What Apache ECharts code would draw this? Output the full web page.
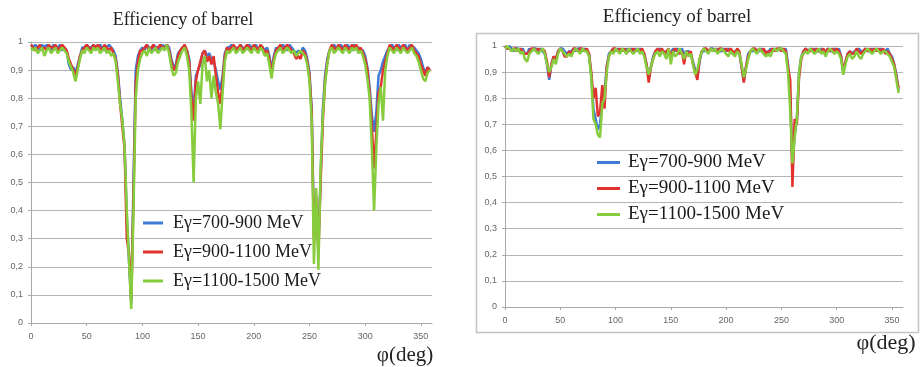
<!DOCTYPE html>
<html><head><meta charset="utf-8">
<script src="https://cdn.jsdelivr.net/npm/echarts@6/dist/echarts.min.js"></script>
<style>html,body{margin:0;padding:0;background:#fff}#c{width:920px;height:367px}</style>
</head><body><div id="c"></div>
<script>
const seriesNames = ['Eγ=700-900 MeV', 'Eγ=900-1100 MeV', 'Eγ=1100-1500 MeV'];
const titleText = 'Efficiency of barrel';
const axisTitle = 'φ(deg)';
const xTicks = [0, 50, 100, 150, 200, 250, 300, 350];
const yTickLabels = ['0', '0,1', '0,2', '0,3', '0,4', '0,5', '0,6', '0,7', '0,8', '0,9', '1'];

const phi = [
  0,2,4,6,8,10,12,14,16,18,
  20,22,24,26,28,30,32,34,36,38,
  40,42,44,46,48,50,52,54,56,58,
  60,62,64,66,68,70,72,74,76,78,
  80,82,84,86,88,90,92,94,96,98,
  100,102,104,106,108,110,112,114,116,118,
  120,122,124,126,128,130,132,134,136,138,
  140,142,144,146,148,150,152,154,156,158,
  160,162,164,166,168,170,172,174,176,178,
  180,182,184,186,188,190,192,194,196,198,
  200,202,204,206,208,210,212,214,216,218,
  220,222,224,226,228,230,232,234,236,238,
  240,242,244,246,248,250,252,254,256,258,
  260,262,264,266,268,270,272,274,276,278,
  280,282,284,286,288,290,292,294,296,298,
  300,302,304,306,308,310,312,314,316,318,
  320,322,324,326,328,330,332,334,336,338,
  340,342,344,346,348,350,352,354,356,358
];

// Left panel
const leftBlue = [
  0.99,0.98,0.99,0.98,0.97,0.99,0.98,0.99,0.98,0.97,
  0.99,0.98,0.98,0.99,0.97,0.98,0.97,0.92,0.90,0.91,
  0.89,0.92,0.95,0.98,0.98,0.99,0.98,0.98,0.99,0.98,
  0.98,0.99,0.98,0.97,0.98,0.99,0.98,0.97,0.95,0.89,
  0.80,0.72,0.63,0.38,0.22,0.07,0.50,0.90,0.95,0.97,
  0.98,0.97,0.99,0.98,0.97,0.99,0.98,0.98,0.97,0.99,
  0.98,0.99,0.98,0.94,0.91,0.92,0.96,0.97,0.98,0.98,
  0.97,0.94,0.82,0.76,0.88,0.90,0.92,0.96,0.97,0.95,
  0.96,0.94,0.93,0.90,0.86,0.83,0.88,0.96,0.98,0.98,
  0.99,0.98,0.98,0.97,0.99,0.98,0.97,0.98,0.99,0.98,
  0.98,0.99,0.97,0.98,0.98,0.97,0.98,0.95,0.90,0.95,
  0.98,0.97,0.98,0.99,0.98,0.97,0.99,0.98,0.97,0.96,
  0.97,0.96,0.98,0.97,0.94,0.89,0.76,0.32,0.42,0.28,
  0.52,0.76,0.88,0.94,0.97,0.98,0.99,0.98,0.98,0.99,
  0.98,0.98,0.99,0.98,0.97,0.99,0.98,0.98,0.97,0.97,
  0.95,0.91,0.84,0.74,0.68,0.75,0.88,0.90,0.93,0.95,
  0.97,0.98,0.99,0.98,0.97,0.99,0.98,0.98,0.99,0.97,
  0.99,0.98,0.98,0.97,0.96,0.94,0.91,0.89,0.91,0.90
];
const leftRed = [
  0.99,0.98,0.97,0.98,0.99,0.97,0.98,0.97,0.99,0.98,
  0.98,0.99,0.97,0.98,0.99,0.98,0.97,0.94,0.92,0.90,
  0.88,0.91,0.95,0.97,0.98,0.99,0.98,0.97,0.99,0.98,
  0.99,0.98,0.97,0.99,0.98,0.97,0.98,0.96,0.94,0.88,
  0.78,0.70,0.62,0.30,0.25,0.08,0.45,0.85,0.93,0.97,
  0.97,0.98,0.99,0.97,0.98,0.99,0.97,0.98,0.99,0.98,
  0.98,0.99,0.97,0.93,0.90,0.91,0.95,0.97,0.98,0.99,
  0.97,0.93,0.80,0.72,0.86,0.90,0.93,0.96,0.97,0.93,
  0.95,0.92,0.95,0.88,0.82,0.78,0.86,0.95,0.98,0.97,
  0.98,0.99,0.97,0.98,0.99,0.97,0.98,0.99,0.98,0.97,
  0.99,0.98,0.97,0.99,0.98,0.96,0.97,0.94,0.89,0.94,
  0.97,0.98,0.99,0.97,0.98,0.99,0.98,0.97,0.96,0.94,
  0.95,0.94,0.97,0.96,0.93,0.88,0.75,0.30,0.45,0.25,
  0.50,0.72,0.86,0.93,0.97,0.99,0.98,0.97,0.99,0.98,
  0.97,0.99,0.98,0.97,0.99,0.98,0.99,0.97,0.98,0.96,
  0.94,0.90,0.82,0.70,0.55,0.68,0.82,0.84,0.90,0.93,
  0.96,0.99,0.98,0.97,0.99,0.98,0.97,0.99,0.98,0.97,
  0.98,0.99,0.97,0.96,0.95,0.92,0.90,0.88,0.91,0.90
];
const leftGreen = [
  0.98,0.97,0.98,0.96,0.97,0.98,0.95,0.97,0.98,0.96,
  0.97,0.98,0.96,0.97,0.98,0.97,0.96,0.93,0.91,0.89,
  0.86,0.90,0.94,0.97,0.96,0.98,0.97,0.96,0.98,0.97,
  0.98,0.96,0.97,0.98,0.96,0.97,0.95,0.96,0.93,0.86,
  0.78,0.72,0.63,0.40,0.22,0.05,0.40,0.80,0.90,0.94,
  0.96,0.97,0.95,0.98,0.96,0.97,0.98,0.96,0.97,0.98,
  0.97,0.99,0.96,0.91,0.88,0.89,0.93,0.95,0.97,0.98,
  0.95,0.90,0.75,0.50,0.80,0.86,0.78,0.92,0.95,0.86,
  0.90,0.80,0.88,0.82,0.78,0.69,0.82,0.93,0.97,0.96,
  0.97,0.98,0.96,0.97,0.98,0.96,0.97,0.98,0.97,0.96,
  0.98,0.97,0.96,0.98,0.97,0.95,0.96,0.92,0.87,0.93,
  0.96,0.97,0.98,0.96,0.97,0.98,0.97,0.96,0.97,0.95,
  0.96,0.97,0.96,0.95,0.92,0.86,0.72,0.21,0.48,0.19,
  0.55,0.74,0.85,0.92,0.97,0.98,0.96,0.97,0.98,0.97,
  0.96,0.98,0.97,0.96,0.98,0.97,0.98,0.96,0.97,0.95,
  0.92,0.87,0.80,0.62,0.40,0.62,0.78,0.84,0.72,0.90,
  0.95,0.98,0.97,0.96,0.98,0.97,0.96,0.98,0.97,0.96,
  0.97,0.98,0.96,0.95,0.93,0.90,0.87,0.86,0.89,0.90
];

// Right panel (0..356)
const rightBlue = [
  1.00,0.99,1.00,0.99,0.98,0.99,0.99,0.98,0.99,0.97,
  0.97,0.99,0.98,0.99,0.99,0.98,0.99,0.98,0.97,0.93,
  0.87,0.93,0.96,0.95,0.98,0.99,0.99,0.98,0.97,0.98,
  0.98,0.99,0.98,0.99,0.99,0.98,0.99,0.98,0.97,0.89,
  0.76,0.72,0.68,0.70,0.80,0.82,0.92,0.97,0.98,0.99,
  0.98,0.99,0.98,0.99,0.98,0.99,0.98,0.99,0.98,0.99,
  0.98,0.99,0.98,0.97,0.93,0.88,0.92,0.96,0.98,0.98,
  0.99,0.98,0.98,0.97,0.98,0.97,0.99,0.98,0.99,0.98,
  0.99,0.97,0.98,0.98,0.97,0.94,0.91,0.88,0.94,0.98,
  0.98,0.99,0.98,0.99,0.99,0.98,0.99,0.98,0.98,0.99,
  0.98,0.99,0.98,0.97,0.98,0.98,0.97,0.92,0.865,0.92,
  0.97,0.98,0.98,0.99,0.98,0.98,0.99,0.98,0.98,0.97,
  0.99,0.98,0.99,0.98,0.99,0.99,0.98,0.99,0.93,0.80,
  0.54,0.66,0.72,0.90,0.96,0.98,0.99,0.98,0.99,0.98,
  0.99,0.98,0.98,0.99,0.98,0.98,0.99,0.98,0.98,0.99,
  0.98,0.99,0.96,0.90,0.94,0.97,0.98,0.97,0.98,0.98,
  0.99,0.98,0.98,0.99,0.98,0.98,0.99,0.98,0.99,0.98,
  0.99,0.98,0.98,0.99,0.97,0.96,0.93,0.89,0.83
];
const rightRed = [
  1.00,0.99,0.99,0.98,0.99,0.99,0.98,0.99,0.98,0.97,
  0.97,0.98,0.99,0.99,0.98,0.99,0.98,0.99,0.98,0.94,
  0.88,0.93,0.96,0.95,0.98,0.99,0.98,0.96,0.96,0.98,
  0.97,0.99,0.99,0.98,0.99,0.99,0.98,0.99,0.97,0.90,
  0.80,0.84,0.73,0.75,0.85,0.76,0.92,0.96,0.98,0.99,
  0.99,0.98,0.99,0.98,0.99,0.97,0.99,0.98,0.99,0.98,
  0.99,0.98,0.99,0.97,0.93,0.86,0.92,0.95,0.98,0.99,
  0.98,0.99,0.97,0.98,0.99,0.96,0.98,0.99,0.98,0.97,
  0.98,0.93,0.98,0.97,0.98,0.93,0.90,0.87,0.95,0.98,
  0.99,0.99,0.98,0.99,0.98,0.99,0.98,0.99,0.99,0.98,
  0.99,0.98,0.99,0.98,0.97,0.99,0.98,0.92,0.86,0.92,
  0.96,0.98,0.99,0.99,0.98,0.99,0.98,0.99,0.97,0.98,
  0.98,0.99,0.98,0.99,0.99,0.98,0.99,0.98,0.92,0.87,
  0.46,0.72,0.70,0.88,0.95,0.98,0.99,0.98,0.98,0.99,
  0.98,0.99,0.98,0.98,0.99,0.97,0.99,0.98,0.99,0.98,
  0.99,0.98,0.96,0.90,0.94,0.97,0.98,0.97,0.97,0.99,
  0.98,0.97,0.98,0.99,0.98,0.99,0.98,0.99,0.98,0.99,
  0.98,0.99,0.97,0.98,0.97,0.95,0.93,0.88,0.84
];
const rightGreen = [
  0.99,1.00,0.99,0.98,0.99,0.98,0.99,0.97,0.98,0.95,
  0.94,0.97,0.98,0.99,0.98,0.97,0.98,0.99,0.97,0.93,
  0.90,0.92,0.95,0.93,0.97,0.99,0.98,0.97,0.96,0.97,
  0.96,0.98,0.99,0.98,0.97,0.99,0.98,0.98,0.96,0.88,
  0.72,0.70,0.66,0.65,0.78,0.80,0.90,0.96,0.98,0.97,
  0.99,0.98,0.97,0.99,0.98,0.97,0.99,0.98,0.97,0.98,
  0.99,0.97,0.98,0.96,0.92,0.89,0.92,0.95,0.97,0.98,
  0.96,0.98,0.97,0.95,0.99,0.93,0.98,0.96,0.97,0.99,
  0.97,0.95,0.98,0.96,0.97,0.93,0.89,0.91,0.95,0.98,
  0.99,0.98,0.97,0.99,0.98,0.99,0.97,0.98,0.99,0.98,
  0.97,0.96,0.98,0.97,0.96,0.98,0.97,0.93,0.88,0.91,
  0.95,0.98,0.99,0.98,0.97,0.99,0.98,0.97,0.96,0.97,
  0.96,0.98,0.99,0.98,0.99,0.99,0.98,0.97,0.90,0.75,
  0.55,0.65,0.72,0.90,0.96,0.97,0.98,0.97,0.99,0.98,
  0.97,0.98,0.99,0.97,0.98,0.96,0.98,0.99,0.98,0.97,
  0.98,0.97,0.95,0.89,0.93,0.96,0.97,0.95,0.96,0.98,
  0.96,0.95,0.97,0.98,0.99,0.98,0.97,0.98,0.99,0.98,
  0.97,0.98,0.98,0.97,0.96,0.94,0.92,0.87,0.82
];

const colors = ['#3d7bd6', '#e0332f', '#86cc3c'];
const panels = [
  { blue: leftBlue, red: leftRed, green: leftGreen },
  { blue: rightBlue, red: rightRed, green: rightGreen }
];

function pairs(arr) { return arr.map((v, i) => [phi[i], v]); }

const series = [];
panels.forEach((p, gi) => {
  [p.blue, p.red, p.green].forEach((arr, si) => {
    series.push({
      name: seriesNames[si], type: 'line', xAxisIndex: gi, yAxisIndex: gi,
      data: pairs(arr), showSymbol: false, symbol: 'none',
      lineStyle: { width: 2.5, color: colors[si] }, itemStyle: { color: colors[si] },
      z: 2 + si, animation: false
    });
  });
});

const gridLine = '#b4b4b4';
const labelStyle = { color: '#666', fontSize: 9, fontFamily: 'Liberation Sans' };
function xAx(gi) {
  return {
    type: 'value', gridIndex: gi, min: 0, max: 360, interval: 50,
    axisLine: { show: true, lineStyle: { color: '#a8a8a8', width: 1 } },
    axisTick: { show: true, length: 3, inside: false, lineStyle: { color: '#a8a8a8' } },
    axisLabel: Object.assign({ margin: 9, showMaxLabel: false,
      formatter: v => (xTicks.indexOf(v) >= 0 ? String(v) : '') }, labelStyle),
    splitLine: { show: false }
  };
}
function yAx(gi) {
  return {
    type: 'value', gridIndex: gi, min: 0, max: 1, interval: 0.1,
    axisLine: { show: true, lineStyle: { color: '#a8a8a8', width: 1 } },
    axisTick: { show: true, length: 3, lineStyle: { color: '#a8a8a8' } },
    axisLabel: Object.assign({ margin: 8,
      formatter: v => yTickLabels[Math.round(v * 10)] }, labelStyle),
    splitLine: { show: true, lineStyle: { color: gridLine, width: 1 } }
  };
}

const legendBase = {
  data: seriesNames, orient: 'vertical', icon: 'rect', padding: 0, selectedMode: false
};

const chart = echarts.init(document.getElementById('c'));
chart.setOption({
  animation: false,
  backgroundColor: '#fff',
  color: colors,
  grid: [
    { left: 31, top: 42, width: 401, height: 281, outerBoundsMode: 'none', containLabel: false },
    { left: 505, top: 46, width: 398, height: 261, outerBoundsMode: 'none', containLabel: false }
  ],
  xAxis: [xAx(0), xAx(1)],
  yAxis: [yAx(0), yAx(1)],
  legend: [
    Object.assign({}, legendBase, { left: 143, top: 214, itemWidth: 20, itemHeight: 3, itemGap: 11,
      textStyle: { fontFamily: 'Liberation Serif', fontSize: 18, color: '#1a1a1a', padding: [0, 0, 0, 5] } }),
    Object.assign({}, legendBase, { left: 597, top: 153, itemWidth: 23, itemHeight: 3, itemGap: 7,
      textStyle: { fontFamily: 'Liberation Serif', fontSize: 19, color: '#1a1a1a', padding: [0, 0, 0, 3] } })
  ],
  graphic: [
    { type: 'rect', silent: true, z: 0, shape: { x: 476.5, y: 33.5, width: 442, height: 299 },
      style: { fill: 'none', stroke: '#c4c4c4', lineWidth: 1.5 } },
    { type: 'text', x: 183, y: 20, z: 10, style: { text: titleText, align: 'center', verticalAlign: 'middle',
      textAlign: 'center', textVerticalAlign: 'middle', font: '18px "Liberation Serif"', fill: '#222' } },
    { type: 'text', x: 677, y: 17, z: 10, style: { text: titleText, align: 'center', verticalAlign: 'middle',
      textAlign: 'center', textVerticalAlign: 'middle', font: '19px "Liberation Serif"', fill: '#222' } },
    { type: 'text', x: 405, y: 355, z: 10, style: { text: axisTitle, align: 'center', verticalAlign: 'middle',
      textAlign: 'center', textVerticalAlign: 'middle', font: '21px "Liberation Serif"', fill: '#222' } },
    { type: 'text', x: 886, y: 343, z: 10, style: { text: axisTitle, align: 'center', verticalAlign: 'middle',
      textAlign: 'center', textVerticalAlign: 'middle', font: '22px "Liberation Serif"', fill: '#222' } }
  ],
  series: series
});
</script></body></html>
